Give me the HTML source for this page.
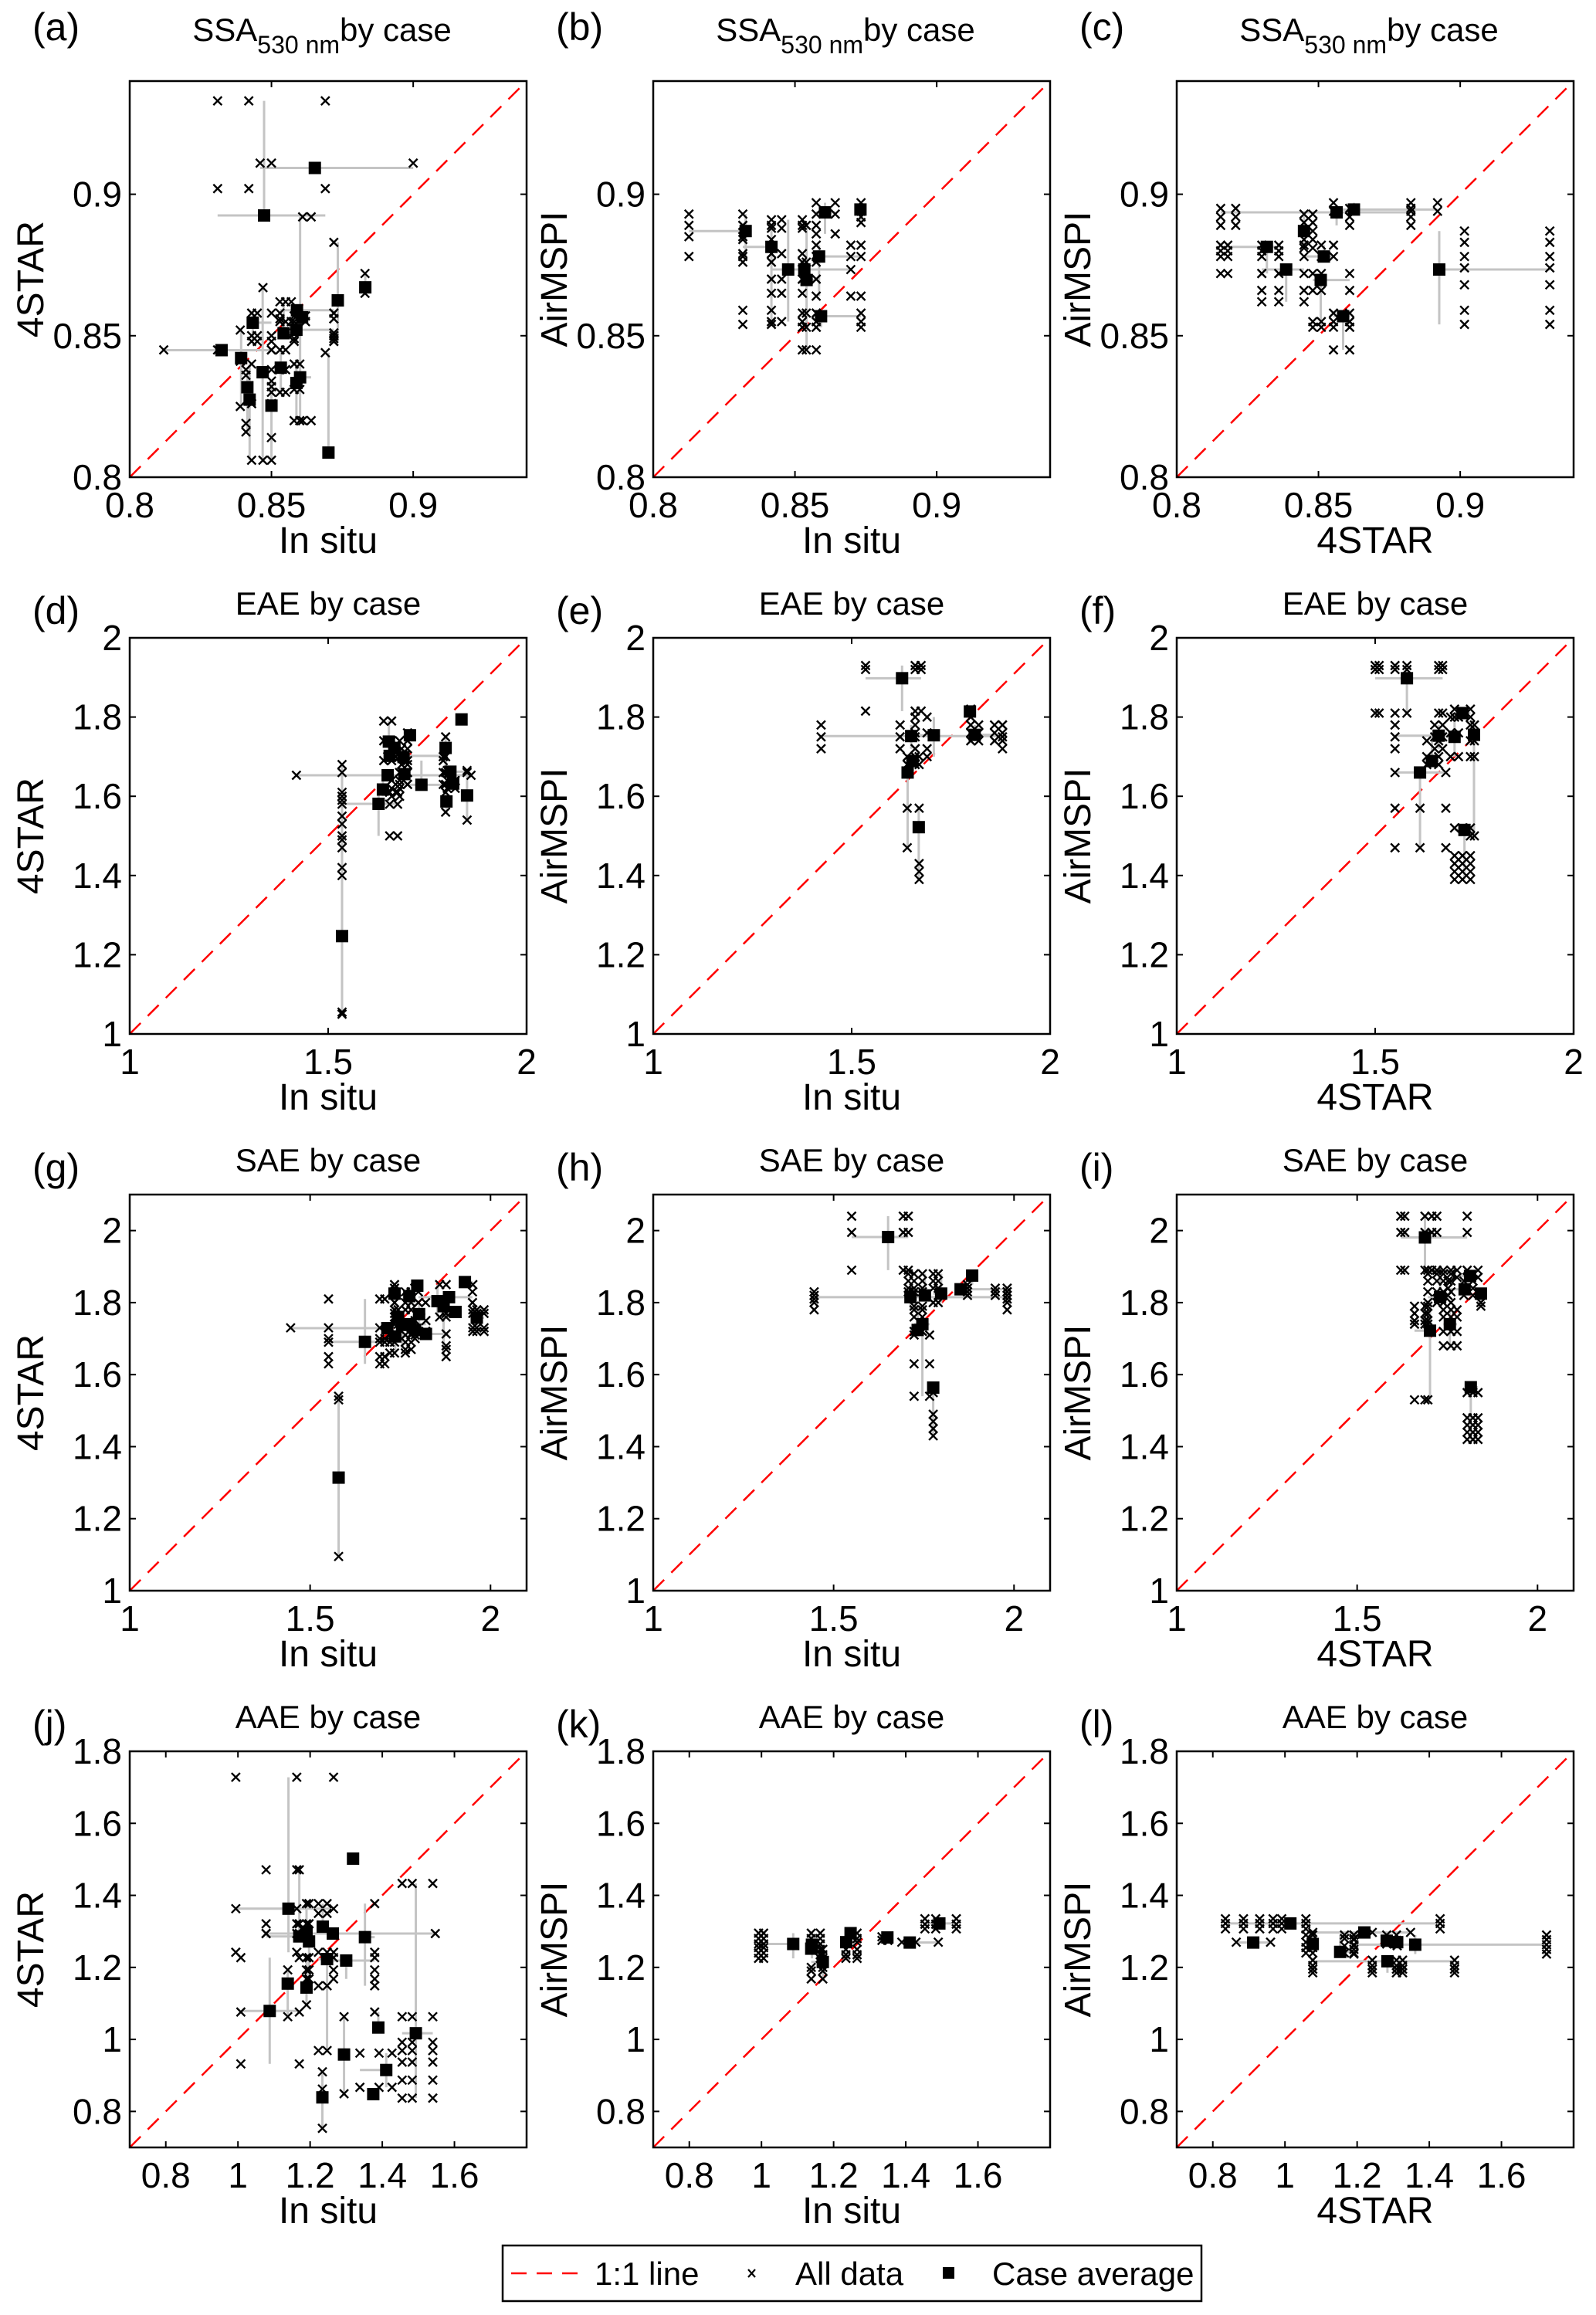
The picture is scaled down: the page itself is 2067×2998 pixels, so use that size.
<!DOCTYPE html>
<html><head><meta charset="utf-8"><style>
html,body{margin:0;padding:0;background:#fff;}
svg{display:block;font-family:"Liberation Sans",Arial,sans-serif;}
</style></head><body>
<svg id="fig" width="2067" height="2998" viewBox="0 0 2067 2998" xmlns="http://www.w3.org/2000/svg">
<rect x="0" y="0" width="2067" height="2998" fill="#fff"/>
<g id="legend">
<rect x="651" y="2908" width="905" height="72" fill="#fff" stroke="#000" stroke-width="2.5"/>
<line x1="662" y1="2944" x2="760" y2="2944" stroke="#f00" stroke-width="2.5" stroke-dasharray="20,13"/>
<text x="770" y="2959" font-size="42">1:1 line</text>
<path d="M969 2939 l9 10 M978 2939 l-9 10" stroke="#000" stroke-width="2.2"/>
<text x="1030" y="2959" font-size="42">All data</text>
<rect x="1221" y="2936" width="15" height="15" fill="#000"/>
<text x="1285" y="2959" font-size="42">Case average</text>
</g>
</svg>
<script>
// ---------- Panel (a): SSA in situ vs 4STAR ----------
const aAvgX=[0.8324,0.8393,0.8415,0.8423,0.8434,0.8469,0.8474,0.85,0.8533,0.8543,0.8588,0.859,0.8608,0.8588,0.8601,0.8653,0.8701,0.8734,0.8831];
const aAvgY=[0.8449,0.8421,0.8318,0.8274,0.8546,0.8371,0.8925,0.8253,0.8387,0.8509,0.8521,0.859,0.8565,0.8333,0.8353,0.9093,0.8087,0.8625,0.8671];
const aPtsX=[[0.812,0.831,0.850],[0.839],[0.841],[0.843],[0.843,0.845,0.850],[0.847],[0.831,0.842,0.869],[0.850],[0.850,0.853,0.855],[0.853,0.855,0.857],[0.858,0.872],[0.853,0.872],[0.858,0.862],[0.858,0.860],[0.861,0.864],[0.846,0.850,0.900],[0.869],[0.872],[0.883]];
const aPtsY=[[0.845],[0.825,0.841,0.852],[0.816,0.819,0.836,0.838],[0.806,0.826,0.840],[0.848,0.850,0.858],[0.806,0.867],[0.902,0.933],[0.806,0.814,0.826,0.832,0.834],[0.830,0.838,0.845],[0.855,0.862],[0.848,0.849,0.851],[0.856,0.858],[0.855,0.857],[0.831,0.840,0.820],[0.820,0.892],[0.911],[0.844],[0.848,0.850,0.856,0.858,0.883],[0.865,0.872]];
// ---------- Panel (b): SSA in situ vs AirMSPI ----------
const bAvgX=[0.8326,0.8417,0.8476,0.8533,0.8541,0.8585,0.8592,0.8606,0.8731];
const bAvgY=[0.887,0.8814,0.8734,0.8734,0.8697,0.878,0.8569,0.8936,0.8946];
const bPtsX=[[0.8126,0.8316],[0.8316,0.8417],[0.8417,0.8453,0.8526],[0.8476,0.8697],[0.8526,0.854,0.8575],[0.8575,0.8697,0.8733],[0.8575,0.8733],[0.8575,0.8642],[0.8733]];
const bPtsY=[[0.878,0.885,0.889,0.893],[0.854,0.859,0.876,0.879,0.884,0.889],[0.855,0.865,0.870,0.879,0.888,0.891],[0.8734],[0.845,0.853,0.858,0.870,0.876,0.889],[0.878,0.882,0.864],[0.853,0.855,0.858],[0.893,0.897,0.886],[0.890,0.892,0.894,0.897]];
// ---------- Panel (c): SSA 4STAR vs AirMSPI ----------
const cAvgX=[0.8318,0.8386,0.8449,0.8508,0.8519,0.8564,0.8587,0.8625,0.8926];
const cAvgY=[0.8814,0.8734,0.887,0.8697,0.878,0.8936,0.8569,0.8946,0.8734];
const cPtsX=[[0.8155,0.818,0.830,0.836],[0.830,0.836,0.8449],[0.8449,0.848],[0.848,0.851,0.861],[0.8449,0.851,0.8553],[0.8155,0.8208,0.861,0.8826],[0.8553,0.861],[0.8553,0.8826,0.892],[0.9015,0.9316]];
const cPtsY=[[0.872,0.878,0.880,0.882],[0.862,0.872,0.866],[0.881,0.884,0.887,0.890,0.893],[0.855,0.853,0.866,0.872],[0.878,0.882],[0.892,0.895,0.889],[0.853,0.855,0.858,0.845],[0.894,0.897],[0.854,0.859,0.868,0.874,0.878,0.883,0.887]];
// ---------- Panel (d): EAE in situ vs 4STAR ----------
const dAvgX=[1.535,1.627,1.638,1.650,1.653,1.667,1.655,1.69,1.692,1.706,1.735,1.796,1.798,1.808,1.815,1.836,1.85];
const dAvgY=[1.247,1.581,1.617,1.653,1.738,1.722,1.702,1.699,1.656,1.754,1.629,1.722,1.587,1.662,1.632,1.794,1.602];
const dPtsX=[[1.535],[1.535,1.655,1.675],[1.66,1.68],[1.42,1.65,1.86],[1.64,1.66],[1.65,1.68],[1.67,1.69,1.79],[1.685,1.70],[1.68,1.70],[1.70],[1.70,1.79],[1.796],[1.796],[1.85,1.80],[1.80,1.82],[1.836],[1.85]];
const dPtsY=[[1.05,1.055,1.40,1.42,1.47,1.49,1.53,1.55,1.59,1.60,1.66,1.68],[1.50,1.58,1.61],[1.60,1.62,1.64],[1.653],[1.69,1.74,1.79],[1.70,1.74],[1.70],[1.68,1.72],[1.63,1.66],[1.74,1.76],[1.63,1.66,1.69],[1.66,1.70,1.75,1.72],[1.56,1.61,1.63],[1.665],[1.62,1.64],[1.794],[1.54,1.60,1.66]];
// ---------- Panel (e): EAE in situ vs AirMSPI ----------
const eAvgX=[1.627,1.650,1.707,1.810,1.798,1.653,1.641,1.669];
const eAvgY=[1.898,1.752,1.754,1.755,1.814,1.689,1.660,1.522];
const ePtsX=[[1.535,1.66,1.675],[1.423,1.622,1.66,1.88],[1.66,1.69],[1.80,1.82,1.86,1.88],[1.80],[1.64,1.66,1.67],[1.64],[1.67]];
const ePtsY=[[1.93,1.92,1.815],[1.72,1.75,1.78],[1.70,1.72,1.76,1.80],[1.74,1.76,1.78],[1.80,1.82],[1.68,1.70],[1.47,1.57,1.66],[1.39,1.41,1.43,1.52,1.57]];
// ---------- Panel (f): EAE 4STAR vs AirMSPI ----------
const fAvgX=[1.580,1.613,1.643,1.660,1.70,1.72,1.725,1.749];
const fAvgY=[1.898,1.660,1.689,1.753,1.75,1.81,1.515,1.755];
const fPtsX=[[1.50,1.51,1.55,1.58,1.66,1.67],[1.55,1.613,1.678],[1.63,1.66],[1.55,1.65,1.67],[1.69,1.71],[1.70,1.74],[1.70,1.72,1.74],[1.74,1.75]];
const fPtsY=[[1.92,1.93,1.81],[1.47,1.66,1.57],[1.68,1.70,1.74],[1.72,1.75,1.78],[1.70,1.76,1.80],[1.80,1.82],[1.39,1.41,1.43,1.45,1.52],[1.50,1.70,1.74,1.78]];
// ---------- Panel (g): SAE in situ vs 4STAR ----------
const gAvgX=[1.579,1.652,1.714,1.734,1.736,1.744,1.755,1.775,1.778,1.791,1.797,1.802,1.821,1.853,1.870,1.885,1.903,1.929,1.962];
const gAvgY=[1.314,1.691,1.729,1.825,1.706,1.760,1.738,1.818,1.740,1.724,1.847,1.768,1.713,1.804,1.790,1.815,1.774,1.857,1.758];
const gPtsX=[[1.579],[1.551,1.693,1.707],[1.446,1.551,1.693,1.721],[1.734],[1.721,1.734,1.764],[1.734,1.744],[1.764,1.78],[1.764,1.78],[1.791,1.821],[1.791],[1.79],[1.82],[1.78,1.877],[1.859,1.877],[1.877],[1.80,1.95],[1.903],[1.951],[1.951,1.962,1.982]];
const gPtsY=[[1.095,1.54,1.53],[1.63,1.65,1.69,1.70,1.81],[1.73],[1.84,1.85,1.77,1.80],[1.69,1.71,1.66],[1.74,1.76,1.78],[1.67,1.69,1.71],[1.78,1.80,1.83],[1.72,1.75],[1.70,1.71],[1.84],[1.72,1.80],[1.713],[1.76,1.85],[1.65,1.67,1.68,1.77],[1.80,1.83],[1.774],[1.85],[1.72,1.73,1.77,1.78]];
// ---------- Panel (h): SAE in situ vs AirMSPI ----------
const hAvgX=[1.651,1.713,1.753,1.798,1.733,1.746,1.776,1.852,1.884];
const hAvgY=[1.982,1.815,1.820,1.825,1.724,1.740,1.564,1.837,1.875];
const hPtsX=[[1.550,1.693,1.707],[1.446,1.981],[1.707,1.723,1.746],[1.776,1.790],[1.723,1.746],[1.723,1.766],[1.776],[1.871,1.948,1.981],[1.871]];
const hPtsY=[[2.04,1.995,1.89],[1.78,1.80,1.81,1.82,1.83],[1.86,1.88,1.84,1.83],[1.88,1.86,1.84,1.80],[1.78,1.76,1.79,1.72],[1.71,1.54,1.63],[1.43,1.45,1.47,1.49,1.55],[1.82,1.84,1.83],[1.85]];
// ---------- Panel (i): SAE 4STAR vs AirMSPI ----------
const iAvgX=[1.688,1.730,1.798,1.813,1.843,1.757,1.702,1.815];
const iAvgY=[1.981,1.815,1.837,1.874,1.825,1.740,1.722,1.565];
const iPtsX=[[1.621,1.632,1.688,1.707,1.721,1.805],[1.696,1.721,1.739,1.760],[1.752,1.796,1.821],[1.777,1.805,1.835],[1.843],[1.739,1.760,1.777],[1.659,1.688,1.696],[1.805,1.821,1.835]];
const iPtsY=[[2.04,1.995,1.89],[1.80,1.83,1.86,1.88,1.89],[1.82,1.84,1.86],[1.87,1.89],[1.80,1.79],[1.68,1.72,1.76,1.78],[1.53,1.74,1.75,1.77,1.79],[1.42,1.44,1.46,1.48,1.55]];
// ---------- Panel (j): AAE in situ vs 4STAR ----------
const jAvgX=[1.140,1.088,1.138,1.170,1.190,1.197,1.190,1.235,1.263,1.247,1.300,1.319,1.352,1.294,1.389,1.411,1.375,1.234,1.493];
const jAvgY=[1.363,1.079,1.155,1.286,1.299,1.272,1.144,1.313,1.294,1.223,1.219,1.502,1.284,0.958,1.033,0.915,0.848,0.839,1.017];
const jPtsX=[[0.994,1.163,1.265],[1.008,1.170],[1.138],[1.078,1.163,1.170],[1.190,1.197],[1.190,1.197],[1.190],[1.223,1.247],[1.078,1.547],[1.223,1.247],[1.265,1.379],[],[1.379],[1.294],[1.379],[1.338,1.427,1.391],[],[1.234],[1.455,1.483,1.540]];
const jPtsY=[[1.728,1.363,1.242],[0.932,1.076,1.227],[1.063,1.193],[1.294,1.321,1.471],[1.377,1.321],[1.193,1.227,1.168],[1.096,1.227],[1.377,1.35],[1.294],[1.242,0.969,1.149],[1.193,1.168,1.227],[],[1.242,1.377,1.149],[1.063,0.849],[1.076],[0.962,0.867],[],[0.753,0.862,0.910],[1.433,1.063,0.992,0.969,0.937,0.887,0.837]];
// ---------- Panel (k): AAE in situ vs AirMSPI ----------
const kAvgX=[1.088,1.138,1.140,1.170,1.235,1.247,1.349,1.411,1.493];
const kAvgY=[1.265,1.252,1.263,1.215,1.270,1.295,1.283,1.269,1.322];
const kPtsX=[[0.992,1.006],[1.138,1.163],[1.163,1.170],[1.138,1.170],[1.234,1.265],[1.265],[1.334,1.35],[1.389,1.428,1.490],[1.453,1.483,1.540]];
const kPtsY=[[1.225,1.24,1.255,1.265,1.28,1.295],[1.265,1.28,1.295],[1.25,1.235,1.225],[1.168,1.19,1.20],[1.27,1.25,1.235,1.225],[1.28,1.295],[1.275,1.285],[1.27],[1.307,1.32,1.335]];
// ---------- Panel (l): AAE 4STAR vs AirMSPI ----------
const lAvgX=[1.015,0.912,1.077,1.220,1.153,1.282,1.311,1.361,1.284];
const lAvgY=[1.322,1.269,1.265,1.297,1.243,1.274,1.270,1.263,1.217];
const lPtsX=[[0.835,0.885,0.930,0.967,0.991,1.058,1.43],[0.865,0.96],[1.058,1.077],[1.077,1.223,1.242,1.348],[1.165,1.191],[1.282,1.309],[1.311],[1.191,1.725],[1.077,1.242,1.309,1.326,1.47]];
const lPtsY=[[1.307,1.322,1.335],[1.27],[1.24,1.255,1.27,1.29],[1.297],[1.24,1.26,1.28,1.29],[1.29,1.275,1.265],[1.26],[1.237,1.25,1.263,1.277,1.29],[1.185,1.195,1.205,1.22]];

// ---------- axis config ----------
const ssaTicks=[0.8,0.85,0.9];
const ssaTickLabels=["0.8","0.85","0.9"];
const eaeXTicks=[1,1.5,2];
const eaeXTickLabels=["1","1.5","2"];
const eaeYTicks=[1,1.2,1.4,1.6,1.8,2];
const eaeYTickLabels=["1","1.2","1.4","1.6","1.8","2"];
const aaeTicks=[0.8,1,1.2,1.4,1.6,1.8];
const aaeXTickLabels=["0.8","1","1.2","1.4","1.6",""];
const aaeYTickLabels=["0.8","1","1.2","1.4","1.6","1.8"];

const NS="http://www.w3.org/2000/svg";
const svg=document.getElementById('fig');
const legend=document.getElementById('legend');
function mk(tag,attrs,parent){const e=document.createElementNS(NS,tag);for(const k in attrs)e.setAttribute(k,attrs[k]);(parent||svg).appendChild(e);return e;}

const colL=[168,846,1524], rowT=[105,826,1547,2268], W=514, H=513;
const panels=[
 {id:'a',col:0,row:0,xlab:'In situ',ylab:'4STAR',t:'SSA',min:0.8,max:0.94,xt:ssaTicks,xtl:ssaTickLabels,yt:ssaTicks,ytl:ssaTickLabels,ax:aAvgX,ay:aAvgY,px:aPtsX,py:aPtsY},
 {id:'b',col:1,row:0,xlab:'In situ',ylab:'AirMSPI',t:'SSA',min:0.8,max:0.94,xt:ssaTicks,xtl:ssaTickLabels,yt:ssaTicks,ytl:ssaTickLabels,ax:bAvgX,ay:bAvgY,px:bPtsX,py:bPtsY},
 {id:'c',col:2,row:0,xlab:'4STAR',ylab:'AirMSPI',t:'SSA',min:0.8,max:0.94,xt:ssaTicks,xtl:ssaTickLabels,yt:ssaTicks,ytl:ssaTickLabels,ax:cAvgX,ay:cAvgY,px:cPtsX,py:cPtsY},
 {id:'d',col:0,row:1,xlab:'In situ',ylab:'4STAR',t:'EAE by case',min:1,max:2,xt:eaeXTicks,xtl:eaeXTickLabels,yt:eaeYTicks,ytl:eaeYTickLabels,ax:dAvgX,ay:dAvgY,px:dPtsX,py:dPtsY},
 {id:'e',col:1,row:1,xlab:'In situ',ylab:'AirMSPI',t:'EAE by case',min:1,max:2,xt:eaeXTicks,xtl:eaeXTickLabels,yt:eaeYTicks,ytl:eaeYTickLabels,ax:eAvgX,ay:eAvgY,px:ePtsX,py:ePtsY},
 {id:'f',col:2,row:1,xlab:'4STAR',ylab:'AirMSPI',t:'EAE by case',min:1,max:2,xt:eaeXTicks,xtl:eaeXTickLabels,yt:eaeYTicks,ytl:eaeYTickLabels,ax:fAvgX,ay:fAvgY,px:fPtsX,py:fPtsY},
 {id:'g',col:0,row:2,xlab:'In situ',ylab:'4STAR',t:'SAE by case',min:1,max:2.1,xt:eaeXTicks,xtl:eaeXTickLabels,yt:eaeYTicks,ytl:eaeYTickLabels,ax:gAvgX,ay:gAvgY,px:gPtsX,py:gPtsY},
 {id:'h',col:1,row:2,xlab:'In situ',ylab:'AirMSPI',t:'SAE by case',min:1,max:2.1,xt:eaeXTicks,xtl:eaeXTickLabels,yt:eaeYTicks,ytl:eaeYTickLabels,ax:hAvgX,ay:hAvgY,px:hPtsX,py:hPtsY},
 {id:'i',col:2,row:2,xlab:'4STAR',ylab:'AirMSPI',t:'SAE by case',min:1,max:2.1,xt:eaeXTicks,xtl:eaeXTickLabels,yt:eaeYTicks,ytl:eaeYTickLabels,ax:iAvgX,ay:iAvgY,px:iPtsX,py:iPtsY},
 {id:'j',col:0,row:3,xlab:'In situ',ylab:'4STAR',t:'AAE by case',min:0.7,max:1.8,xt:aaeTicks,xtl:aaeXTickLabels,yt:aaeTicks,ytl:aaeYTickLabels,ax:jAvgX,ay:jAvgY,px:jPtsX,py:jPtsY},
 {id:'k',col:1,row:3,xlab:'In situ',ylab:'AirMSPI',t:'AAE by case',min:0.7,max:1.8,xt:aaeTicks,xtl:aaeXTickLabels,yt:aaeTicks,ytl:aaeYTickLabels,ax:kAvgX,ay:kAvgY,px:kPtsX,py:kPtsY},
 {id:'l',col:2,row:3,xlab:'4STAR',ylab:'AirMSPI',t:'AAE by case',min:0.7,max:1.8,xt:aaeTicks,xtl:aaeXTickLabels,yt:aaeTicks,ytl:aaeYTickLabels,ax:lAvgX,ay:lAvgY,px:lPtsX,py:lPtsY}
];

panels.forEach(p=>{
  const L=colL[p.col], T=rowT[p.row], B=T+H, R=L+W;
  const sx=v=>L+(v-p.min)/(p.max-p.min)*W;
  const sy=v=>B-(v-p.min)/(p.max-p.min)*H;
  const g=mk('g',{},svg);
  
  
  const pl=mk('text',{x:L-126,y:T-(p.row===0?70:35)+17,'font-size':50},g);
  pl.textContent='('+p.id+')';
  
  
  const tt=mk('text',{x:L+W/2,y:p.row===0?53:(T-30),'text-anchor':'middle','font-size':42},g);
  if(p.t==='SSA'){
    tt.setAttribute('x',L+W/2-8);
    const t1=mk('tspan',{},tt);t1.textContent='SSA';
    const t2=mk('tspan',{dy:16,'font-size':32},tt);t2.textContent='530 nm';
    const t3=mk('tspan',{dy:-16},tt);t3.textContent='by case';
  } else tt.textContent=p.t;
  
  
  const cp=mk('clipPath',{id:'clip'+p.id},g);
  mk('rect',{x:L,y:T,width:W,height:H},cp);
  const plot=mk('g',{'clip-path':'url(#clip'+p.id+')'},g);
  const one=mk('line',{x1:sx(p.min),y1:sy(p.min),x2:sx(p.max),y2:sy(p.max),stroke:'#f00','stroke-width':2.5,'stroke-dasharray':'20,13'},plot);
  
  
  p.ax.forEach((ax,i)=>{
    const xs=p.px[i], ys=p.py[i];
    if(xs.length){
      const bx=mk('line',{x1:sx(Math.min(...xs,ax)),x2:sx(Math.max(...xs,ax)),y1:sy(p.ay[i]),y2:sy(p.ay[i]),stroke:'#c4c4c4','stroke-width':3},plot);
      
      
    }
    if(ys.length){
      const by=mk('line',{x1:sx(ax),x2:sx(ax),y1:sy(Math.min(...ys,p.ay[i])),y2:sy(Math.max(...ys,p.ay[i])),stroke:'#c4c4c4','stroke-width':3},plot);
      
      
    }
  });
  p.px.forEach((xs,i)=>{
    xs.forEach(xv=>{p.py[i].forEach(yv=>{
      const cx=sx(xv), cy=sy(yv), s=5.5;
      const m=mk('path',{d:`M${cx-s} ${cy-s}L${cx+s} ${cy+s}M${cx+s} ${cy-s}L${cx-s} ${cy+s}`,stroke:'#000','stroke-width':2.4},plot);
      
      
    });});
  });
  p.ax.forEach((ax,i)=>{
    const r=mk('rect',{x:sx(ax)-8,y:sy(p.ay[i])-8,width:16,height:16,fill:'#000'},plot);
    
    
  });
  const fr=mk('rect',{x:L,y:T,width:W,height:H,fill:'none',stroke:'#000','stroke-width':2.5},g);
  
  
  p.xt.forEach((v,i)=>{
    const x=sx(v);
    mk('line',{x1:x,x2:x,y1:B,y2:B-8,stroke:'#000','stroke-width':2},g);
    mk('line',{x1:x,x2:x,y1:T,y2:T+8,stroke:'#000','stroke-width':2},g);
    const tl=mk('text',{x:x,y:B+52,'text-anchor':'middle','font-size':46},g);
    tl.textContent=p.xtl[i];
    
    
  });
  p.yt.forEach((v,i)=>{
    const y=sy(v);
    mk('line',{x1:L,x2:L+8,y1:y,y2:y,stroke:'#000','stroke-width':2},g);
    mk('line',{x1:R,x2:R-8,y1:y,y2:y,stroke:'#000','stroke-width':2},g);
    const tl=mk('text',{x:L-10,y:y+16,'text-anchor':'end','font-size':46},g);
    tl.textContent=p.ytl[i];
    
    
  });
  const xl=mk('text',{x:L+W/2,y:B+98,'text-anchor':'middle','font-size':48},g);
  xl.textContent=p.xlab;
  
  
  const yx=L-112, yy=T+H/2;
  const yl=mk('text',{x:yx,y:yy,'text-anchor':'middle','font-size':48,transform:`rotate(-90 ${yx} ${yy})`},g);
  yl.textContent=p.ylab;
  
  
});
svg.appendChild(legend);
</script>
</body></html>
